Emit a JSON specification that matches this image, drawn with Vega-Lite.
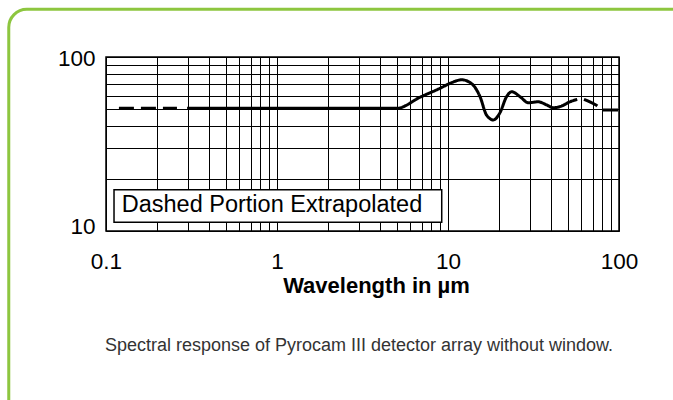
{
  "$schema": "https://vega.github.io/schema/vega-lite/v6.json",
  "width": 513,
  "height": 174,
  "autosize": {"type": "none"},
  "padding": {"left": 106, "top": 57, "right": 54, "bottom": 169},
  "background": "white",
  "config": {
    "view": {"stroke": "#000", "strokeWidth": 1.5},
    "font": "Liberation Sans",
    "axis": {"labelColor": "#000", "titleColor": "#000", "gridColor": "#000", "gridOpacity": 1, "gridWidth": 1}
  },
  "datasets": {
    "curve": [
      {"x": 0.119, "y": 50.7, "seg": "L", "dash": "dashed"},
      {"x": 0.26, "y": 50.7, "seg": "L", "dash": "dashed"},
      {"x": 0.298, "y": 50.7, "seg": "S", "dash": "solid"},
      {"x": 5.01, "y": 50.7, "seg": "S", "dash": "solid"},
      {"x": 6.86, "y": 58.7, "seg": "S", "dash": "solid"},
      {"x": 8.98, "y": 66.1, "seg": "S", "dash": "solid"},
      {"x": 10.5, "y": 71.2, "seg": "S", "dash": "solid"},
      {"x": 12.0, "y": 74.0, "seg": "S", "dash": "solid"},
      {"x": 13.8, "y": 70.0, "seg": "S", "dash": "solid"},
      {"x": 15.4, "y": 59.1, "seg": "S", "dash": "solid"},
      {"x": 16.8, "y": 46.4, "seg": "S", "dash": "solid"},
      {"x": 18.4, "y": 43.5, "seg": "S", "dash": "solid"},
      {"x": 20.1, "y": 47.7, "seg": "S", "dash": "solid"},
      {"x": 22.0, "y": 59.1, "seg": "S", "dash": "solid"},
      {"x": 23.6, "y": 63.2, "seg": "S", "dash": "solid"},
      {"x": 26.4, "y": 59.1, "seg": "S", "dash": "solid"},
      {"x": 29.5, "y": 54.6, "seg": "S", "dash": "solid"},
      {"x": 33.7, "y": 55.3, "seg": "S", "dash": "solid"},
      {"x": 37.8, "y": 53.0, "seg": "S", "dash": "solid"},
      {"x": 41.3, "y": 51.1, "seg": "S", "dash": "solid"},
      {"x": 46.2, "y": 52.3, "seg": "S", "dash": "solid"},
      {"x": 51.7, "y": 55.3, "seg": "S", "dash": "solid"},
      {"x": 57.0, "y": 57.1, "seg": "S", "dash": "solid"},
      {"x": 62.4, "y": 57.1, "seg": "R", "dash": "dashed"},
      {"x": 73.3, "y": 53.0, "seg": "R", "dash": "dashed"},
      {"x": 80.6, "y": 49.6, "seg": "R", "dash": "dashed"},
      {"x": 100, "y": 49.6, "seg": "R", "dash": "dashed"}
    ],
    "legendbox": [{"x1": 0.1114, "x2": 9.19, "y1": 11.22, "y2": 17.28}],
    "legendtext": [{"x": 0.1236, "y": 12.91, "label": "Dashed Portion Extrapolated"}],
    "caption": [{"x": 3.017, "y": 2.043, "label": "Spectral response of Pyrocam III detector array without window."}],
    "border": [{"x1": 0.027, "x2": 400, "y1": 0.5, "y2": 188}]
  },
  "layer": [
    {
      "data": {"name": "curve"},
      "mark": {"type": "line", "interpolate": "monotone", "strokeWidth": 3, "color": "#000"},
      "encoding": {
        "x": {
          "field": "x", "type": "quantitative",
          "scale": {"type": "log", "domain": [0.1, 100]},
          "axis": {
            "values": [0.1, 0.2, 0.3, 0.4, 0.5, 0.6, 0.7, 0.8, 0.9, 1, 2, 3, 4, 5, 6, 7, 8, 9, 10, 20, 30, 40, 50, 60, 70, 80, 90, 100],
            "format": "~g",
            "labelExpr": "(datum.value == 0.1 || datum.value == 1 || datum.value == 10 || datum.value == 100) ? datum.label : ''",
            "grid": true, "ticks": false, "domain": false,
            "labelFlush": false, "labelOverlap": false,
            "labelFontSize": 22.5, "labelPadding": 19, "labelFont": "Liberation Sans",
            "title": "Wavelength in µm",
            "titleFontSize": 22, "titleFontWeight": "bold", "titleFont": "Liberation Sans",
            "titleX": 270, "titleY": 61, "titleBaseline": "alphabetic"
          }
        },
        "y": {
          "field": "y", "type": "quantitative",
          "scale": {"type": "log", "domain": [10, 100]},
          "axis": {
            "values": [10, 20, 30, 40, 50, 60, 70, 80, 90, 100],
            "labelExpr": "(datum.value == 10 || datum.value == 100) ? datum.label : ''",
            "grid": true, "ticks": false, "domain": false,
            "labelFlush": false, "labelOverlap": false,
            "labelFontSize": 22.5, "labelPadding": 11, "labelFont": "Liberation Sans",
            "labelOffset": {"condition": {"test": "datum.value == 10", "value": -5}, "value": 1},
            "title": null
          }
        },
        "detail": {"field": "seg"},
        "strokeDash": {
          "field": "dash", "type": "nominal",
          "scale": {"domain": ["solid", "dashed"], "range": [[1, 0], [15, 7]]},
          "legend": null
        }
      }
    },
    {
      "data": {"name": "legendbox"},
      "mark": {"type": "rect", "fill": "#fff", "stroke": "#000", "strokeWidth": 1.5},
      "encoding": {
        "x": {"field": "x1", "type": "quantitative"},
        "x2": {"field": "x2"},
        "y": {"field": "y1", "type": "quantitative"},
        "y2": {"field": "y2"}
      }
    },
    {
      "data": {"name": "legendtext"},
      "mark": {"type": "text", "align": "left", "baseline": "alphabetic", "fontSize": 23.5, "font": "Liberation Sans", "color": "#000"},
      "encoding": {
        "x": {"field": "x", "type": "quantitative"},
        "y": {"field": "y", "type": "quantitative"},
        "text": {"field": "label"}
      }
    },
    {
      "data": {"name": "caption"},
      "mark": {"type": "text", "align": "center", "baseline": "alphabetic", "fontSize": 18, "font": "Liberation Sans", "color": "#333"},
      "encoding": {
        "x": {"field": "x", "type": "quantitative"},
        "y": {"field": "y", "type": "quantitative"},
        "text": {"field": "label"}
      }
    },
    {
      "data": {"name": "border"},
      "mark": {"type": "rect", "fill": null, "stroke": "#8dc63f", "strokeWidth": 3, "cornerRadius": 18, "clip": false},
      "encoding": {
        "x": {"field": "x1", "type": "quantitative"},
        "x2": {"field": "x2"},
        "y": {"field": "y1", "type": "quantitative"},
        "y2": {"field": "y2"}
      }
    }
  ]
}
